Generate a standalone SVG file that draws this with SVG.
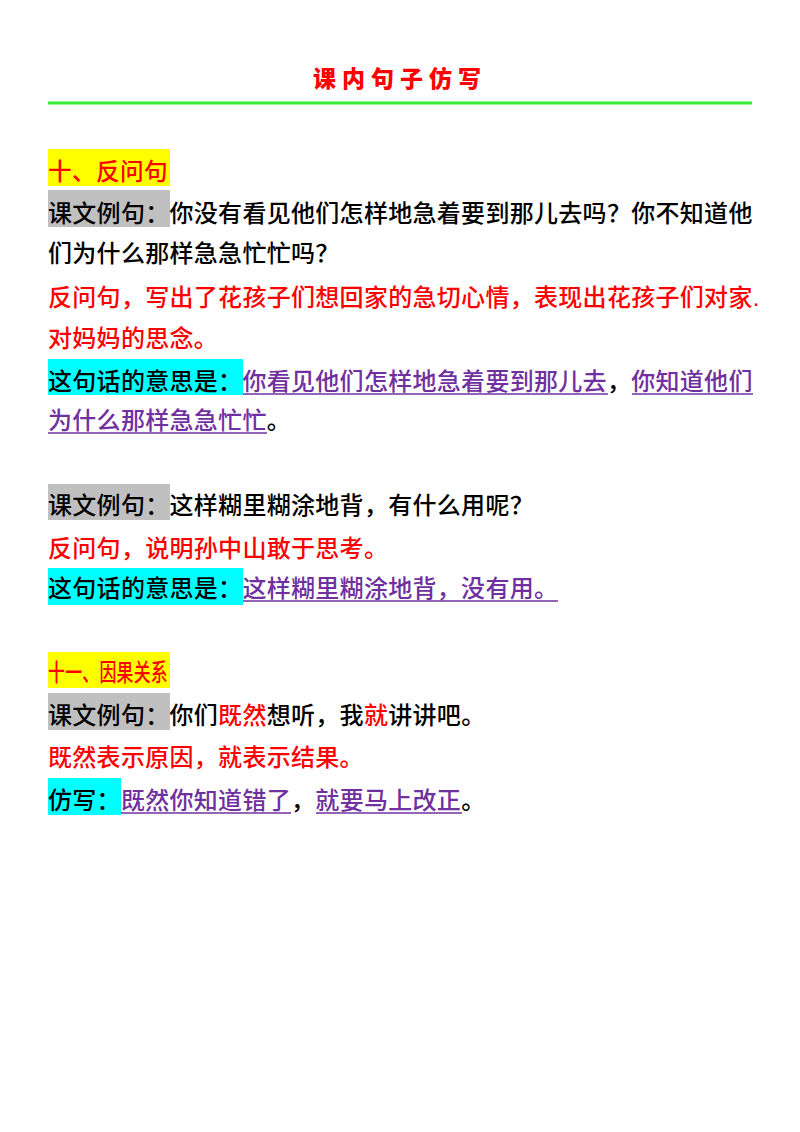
<svg xmlns="http://www.w3.org/2000/svg" width="800" height="1132" viewBox="0 0 800 1132">
<style>
text{font-family:"Liberation Sans","Noto Sans CJK SC",sans-serif;font-size:24px;letter-spacing:0.3px;font-weight:500}
.k{fill:#000}.r{fill:#ff0000}.p{fill:#7030a0}
.u{stroke:#7030a0;stroke-width:1.5}
</style>
<rect width="800" height="1132" fill="#fff"/>
<g id="title">
<text x="400" y="87" text-anchor="middle" class="r" style="font-size:23px;font-weight:900;letter-spacing:6px">课内句子仿写</text>
<line x1="48" y1="103" x2="752" y2="103" stroke="#33ee33" stroke-width="3"/>
</g>
<g id="sec10">
<rect x="48" y="149" width="122" height="37" fill="#ffff00"/>
<text x="48" y="180" class="r" textLength="120" lengthAdjust="spacingAndGlyphs">十、反问句</text>
<rect x="48" y="190" width="122" height="37" fill="#c0c0c0"/>
<text x="48" y="222" class="k">课文例句：你没有看见他们怎样地急着要到那儿去吗？你不知道他</text>
<text x="48" y="262" class="k">们为什么那样急急忙忙吗？</text>
<text x="48" y="306" class="r">反问句，写出了花孩子们想回家的急切心情，表现出花孩子们对家.</text>
<text x="48" y="347" class="r">对妈妈的思念。</text>
<rect x="48" y="359" width="195" height="36" fill="#00ffff"/>
<text x="48" y="390" class="k">这句话的意思是：<tspan class="p">你看见他们怎样地急着要到那儿去</tspan>，<tspan class="p">你知道他们</tspan></text>
<line class="u" x1="243" y1="394" x2="608" y2="394"/>
<line class="u" x1="632" y1="394" x2="753" y2="394"/>
<text x="48" y="429" class="p">为什么那样急急忙忙<tspan class="k">。</tspan></text>
<line class="u" x1="48" y1="433" x2="267" y2="433"/>
</g>
<g id="sec10b">
<rect x="48" y="484" width="122" height="36" fill="#c0c0c0"/>
<text x="48" y="514" class="k">课文例句：这样糊里糊涂地背，有什么用呢？</text>
<text x="48" y="557" class="r">反问句，说明孙中山敢于思考。</text>
<rect x="48" y="568" width="195" height="37" fill="#00ffff"/>
<text x="48" y="597" class="k">这句话的意思是：<tspan class="p">这样糊里糊涂地背，没有用。</tspan></text>
<line class="u" x1="243" y1="601" x2="558" y2="601"/>
</g>
<g id="sec11">
<rect x="48" y="652" width="122" height="36" fill="#ffff00"/>
<text x="48" y="681" class="r" textLength="120" lengthAdjust="spacingAndGlyphs">十一、因果关系</text>
<rect x="48" y="693" width="122" height="37" fill="#c0c0c0"/>
<text x="48" y="724" class="k">课文例句：你们<tspan class="r">既然</tspan>想听，我<tspan class="r">就</tspan>讲讲吧。</text>
<text x="48" y="766" class="r">既然表示原因，就表示结果。</text>
<rect x="48" y="778" width="73" height="37" fill="#00ffff"/>
<text x="48" y="809" class="k">仿写：<tspan class="p">既然你知道错了</tspan>，<tspan class="p">就要马上改正</tspan>。</text>
<line class="u" x1="121" y1="813" x2="291" y2="813"/>
<line class="u" x1="316" y1="813" x2="462" y2="813"/>
</g>
<g id="connectors"/>
</svg>
